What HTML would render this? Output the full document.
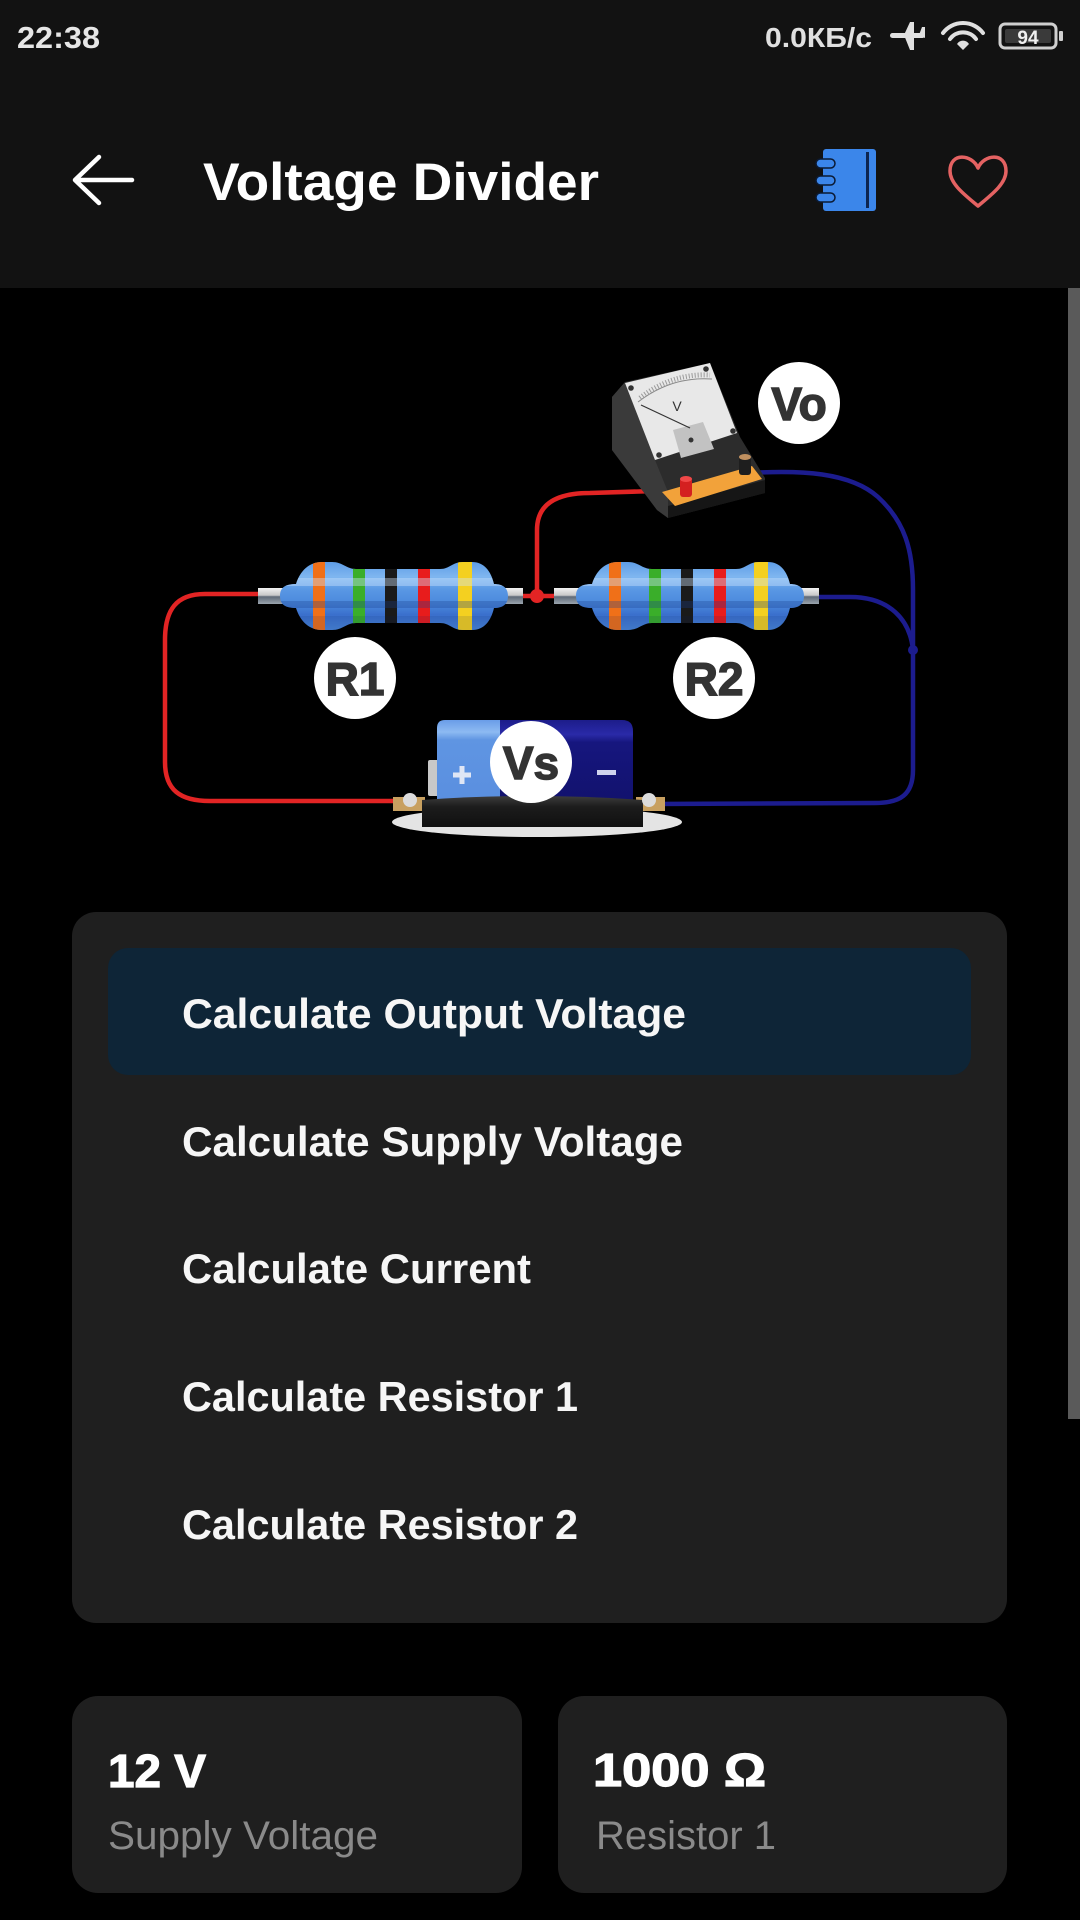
<!DOCTYPE html>
<html>
<head>
<meta charset="utf-8">
<style>
  html,body{margin:0;padding:0;background:#000;}
  body{width:1080px;height:1920px;position:relative;overflow:hidden;}
  svg{position:absolute;left:0;top:0;}
  text{font-family:"Liberation Sans", sans-serif;}
</style>
</head>
<body>
<svg width="1080" height="1920" viewBox="0 0 1080 1920" xmlns="http://www.w3.org/2000/svg">
  <defs>
    <linearGradient id="rg" x1="0" y1="0" x2="0" y2="1">
      <stop offset="0" stop-color="#5f9de6"/>
      <stop offset="0.22" stop-color="#7fb6f0"/>
      <stop offset="0.4" stop-color="#5a98e4"/>
      <stop offset="0.62" stop-color="#4a88dc"/>
      <stop offset="0.78" stop-color="#3a6fcc"/>
      <stop offset="1" stop-color="#4a86d8"/>
    </linearGradient>
    <linearGradient id="lead" x1="0" y1="0" x2="0" y2="1">
      <stop offset="0" stop-color="#f2f2f2"/>
      <stop offset="0.45" stop-color="#c9c9c9"/>
      <stop offset="0.55" stop-color="#5f6a78"/>
      <stop offset="1" stop-color="#9aa4ae"/>
    </linearGradient>
    <linearGradient id="batL" x1="0" y1="0" x2="0" y2="1">
      <stop offset="0" stop-color="#6a9de8"/>
      <stop offset="0.15" stop-color="#8dbaf2"/>
      <stop offset="0.25" stop-color="#5f95e2"/>
      <stop offset="1" stop-color="#5a8fe0"/>
    </linearGradient>
    <linearGradient id="batR" x1="0" y1="0" x2="0" y2="1">
      <stop offset="0" stop-color="#1c1c8a"/>
      <stop offset="0.18" stop-color="#2a2aa8"/>
      <stop offset="0.28" stop-color="#16167e"/>
      <stop offset="1" stop-color="#12126e"/>
    </linearGradient>
    <linearGradient id="hold" x1="0" y1="0" x2="0" y2="1">
      <stop offset="0" stop-color="#3c3c3c"/>
      <stop offset="0.35" stop-color="#1c1c1c"/>
      <stop offset="1" stop-color="#101010"/>
    </linearGradient>
    <clipPath id="rc">
      <path d="M 280 596 C 280 587 286 584 296 584 C 300 571 309 562 322 562 L 332 562 C 343 562 346 569 356 569 L 440 569 C 450 569 452 562 463 562 L 472 562 C 484 562 491 571 494 584 C 503 584 508 588 508 596 C 508 604 503 608 494 608 C 491 621 484 630 472 630 L 463 630 C 452 630 450 623 440 623 L 356 623 C 346 623 343 630 332 630 L 322 630 C 309 630 300 621 296 608 C 286 608 280 605 280 596 Z"/>
    </clipPath>
    <g id="res">
      <rect x="258" y="588" width="265" height="16" fill="url(#lead)"/>
      <path d="M 280 596 C 280 587 286 584 296 584 C 300 571 309 562 322 562 L 332 562 C 343 562 346 569 356 569 L 440 569 C 450 569 452 562 463 562 L 472 562 C 484 562 491 571 494 584 C 503 584 508 588 508 596 C 508 604 503 608 494 608 C 491 621 484 630 472 630 L 463 630 C 452 630 450 623 440 623 L 356 623 C 346 623 343 630 332 630 L 322 630 C 309 630 300 621 296 608 C 286 608 280 605 280 596 Z" fill="url(#rg)"/>
      <g clip-path="url(#rc)">
        <rect x="313" y="555" width="12" height="80" fill="#f07018"/>
        <rect x="353" y="555" width="12" height="80" fill="#3aae2a"/>
        <rect x="385" y="555" width="12" height="80" fill="#1a1a1a"/>
        <rect x="418" y="555" width="12" height="80" fill="#e81c1c"/>
        <rect x="458" y="555" width="14" height="80" fill="#f4d020"/>
        <rect x="280" y="578" width="230" height="8" fill="#d0e6ff" opacity="0.4"/>
        <rect x="280" y="601" width="230" height="7" fill="#1a3f90" opacity="0.3"/>
        <rect x="280" y="616" width="230" height="14" fill="#0a2060" opacity="0.12"/>
      </g>
    </g>
  </defs>

  <!-- top bars -->
  <rect x="0" y="0" width="1080" height="288" fill="#121212"/>
  <text x="17" y="48" font-size="31" font-weight="bold" fill="#e6e6e6" textLength="83" lengthAdjust="spacingAndGlyphs">22:38</text>
  <text x="765" y="47" font-size="28" font-weight="bold" fill="#e0e0e0" textLength="107" lengthAdjust="spacingAndGlyphs">0.0КБ/с</text>
  <!-- plane -->
  <g fill="#e0e0e0">
    <rect x="890" y="33" width="35" height="5" rx="2.5"/>
    <polygon points="904,35 910,22 914,22 914,35 914,50 910,50"/>
    <polygon points="919,35 922,27 925,27 925,38"/>
  </g>
  <!-- wifi -->
  <g fill="none" stroke="#e0e0e0" stroke-width="4" stroke-linecap="round">
    <path d="M 943 33 A 25 25 0 0 1 983 33"/>
    <path d="M 950 39 A 16 16 0 0 1 976 39"/>
  </g>
  <path d="M 957 44 A 7 7 0 0 1 969 44 L 963 50 Z" fill="#e0e0e0"/>
  <!-- battery -->
  <rect x="1000" y="24" width="56" height="24" rx="5" fill="none" stroke="#cfcfcf" stroke-width="3"/>
  <rect x="1005" y="29" width="46" height="14" rx="2" fill="#3a3a3a"/>
  <rect x="1059" y="31" width="4" height="10" rx="1" fill="#cfcfcf"/>
  <text x="1028" y="44" font-size="19" font-weight="bold" fill="#f0f0f0" text-anchor="middle">94</text>

  <!-- app bar -->
  <path d="M 132 180 H 76 M 99 157 L 75 180 L 99 203" fill="none" stroke="#ffffff" stroke-width="4.5" stroke-linecap="round" stroke-linejoin="round"/>
  <text x="203" y="200" font-size="53" font-weight="bold" fill="#ffffff" textLength="396" lengthAdjust="spacingAndGlyphs">Voltage Divider</text>
  <!-- notebook icon -->
  <rect x="823" y="149" width="53" height="62" rx="3" fill="#3b86ea"/>
  <rect x="866" y="152" width="3" height="56" fill="#0d2550"/>
  <g fill="#3b86ea" stroke="#0b1a33" stroke-width="1.5">
    <rect x="816" y="159" width="19" height="9" rx="4.5"/>
    <rect x="816" y="176" width="19" height="9" rx="4.5"/>
    <rect x="816" y="193" width="19" height="9" rx="4.5"/>
  </g>
  <!-- heart -->
  <path d="M 978 168 C 972 154 950 152 950 171 C 950 184 965 195 978 206 C 991 195 1006 184 1006 171 C 1006 152 984 154 978 168 Z" fill="none" stroke="#e46262" stroke-width="3.5" stroke-linejoin="round"/>

  <!-- scrollbar -->
  <rect x="1068" y="288" width="12" height="1131" fill="#5a5a5a"/>

  <!-- ========== circuit ========== -->
  <!-- wires -->
  <g fill="none" stroke="#e22424" stroke-width="4.5" stroke-linecap="round">
    <path d="M 262 594 L 205 594 C 176 594 165 610 165 640 L 165 762 C 165 790 180 801 210 801 L 410 801"/>
    <path d="M 520 596 L 556 596"/>
    <path d="M 537 596 L 537 530 C 537 505 555 493 590 493 L 686 490"/>
  </g>
  <circle cx="537" cy="596" r="7" fill="#e22424"/>
  <g fill="none" stroke="#1c1c8e" stroke-width="4.5" stroke-linecap="round">
    <path d="M 815 597 L 850 597 C 890 597 910 620 913 650"/>
    <path d="M 750 473 C 800 470 850 472 878 497 C 905 522 913 550 913 590 L 913 770 C 913 795 900 803 875 803 L 650 804"/>
  </g>
  <circle cx="913" cy="650" r="5" fill="#1c1c8e"/>

  <!-- resistors -->
  <use href="#res"/>
  <use href="#res" x="296"/>

  <!-- meter -->
  <polygon points="625,382 710,363 740,437 765,478 765,493 668,518 657,510 612,450 612,397" fill="#2c2c2c"/>
  <polygon points="612,397 625,382 655,460 668,492 668,518 657,510 612,450" fill="#3a3a3a"/>
  <polygon points="668,506 765,480 765,493 668,518" fill="#161616"/>
  <polygon points="662,492 752,466 762,479 675,506" fill="#f2a23a"/>
  <polygon points="625,383 710,363 737,433 655,460" fill="#e8e8e8"/>
  <polygon points="673,430 703,422 714,449 681,458" fill="#c2c2c2"/>
  <path d="M 638 402 Q 672 376 712 379" fill="none" stroke="#888" stroke-width="1"/>
  <path d="M 640 398 Q 672 373 710 375" fill="none" stroke="#999" stroke-width="5" stroke-dasharray="1 2"/>
  <line x1="690" y1="428" x2="641" y2="405" stroke="#333" stroke-width="1.2"/>
  <text x="677" y="411" font-size="14" fill="#333" text-anchor="middle">V</text>
  <g fill="#333">
    <circle cx="631" cy="388" r="2.8"/>
    <circle cx="706" cy="369" r="2.8"/>
    <circle cx="733" cy="431" r="2.8"/>
    <circle cx="659" cy="455" r="2.8"/>
    <circle cx="691" cy="440" r="2.5"/>
  </g>
  <rect x="680" y="478" width="12" height="19" rx="3" fill="#d42020"/>
  <ellipse cx="686" cy="479" rx="6" ry="3" fill="#f04848"/>
  <rect x="739" y="456" width="12" height="19" rx="3" fill="#1e1e1e"/>
  <ellipse cx="745" cy="457" rx="6" ry="3" fill="#c09060"/>

  <!-- battery -->
  <ellipse cx="537" cy="822" rx="145" ry="15" fill="#e4e4e4"/>
  <rect x="393" y="797" width="32" height="14" fill="#c8a060"/>
  <rect x="636" y="797" width="29" height="14" fill="#c8a060"/>
  <rect x="428" y="760" width="12" height="36" rx="2" fill="#c8c8c8"/>
  <path d="M 437 728 Q 437 720 445 720 L 502 720 L 502 800 L 437 800 Z" fill="url(#batL)"/>
  <path d="M 500 720 L 622 720 Q 633 720 633 731 L 633 800 L 500 800 Z" fill="url(#batR)"/>
  <path d="M 453 775 H 471 M 462 766 V 784" stroke="#dfe6f5" stroke-width="5"/>
  <rect x="597" y="770" width="19" height="5" fill="#d0d4ee"/>
  <path d="M 422 800 Q 532 792 643 800 L 643 827 L 422 827 Z" fill="url(#hold)"/>
  <circle cx="410" cy="800" r="7" fill="#dcdcdc"/>
  <circle cx="649" cy="800" r="7" fill="#dcdcdc"/>

  <!-- labels -->
  <g fill="#ffffff">
    <circle cx="355" cy="678" r="41"/>
    <circle cx="714" cy="678" r="41"/>
    <circle cx="799" cy="403" r="41"/>
    <circle cx="531" cy="762" r="41"/>
  </g>
  <g font-size="46" font-weight="bold" fill="#333" stroke="#333" stroke-width="1.5" text-anchor="middle">
    <text x="355" y="695">R1</text>
    <text x="714" y="695">R2</text>
    <text x="799" y="420">Vo</text>
    <text x="531" y="779">Vs</text>
  </g>

  <!-- ========== list card ========== -->
  <rect x="72" y="912" width="935" height="711" rx="24" fill="#1f1f1f"/>
  <rect x="108" y="948" width="863" height="127" rx="20" fill="#0e2537"/>
  <g font-size="42" font-weight="bold" fill="#f6f6f6">
    <text x="182" y="1028" textLength="504" lengthAdjust="spacingAndGlyphs">Calculate Output Voltage</text>
    <text x="182" y="1156" textLength="501" lengthAdjust="spacingAndGlyphs">Calculate Supply Voltage</text>
    <text x="182" y="1283" textLength="349" lengthAdjust="spacingAndGlyphs">Calculate Current</text>
    <text x="182" y="1411" textLength="396" lengthAdjust="spacingAndGlyphs">Calculate Resistor 1</text>
    <text x="182" y="1539" textLength="396" lengthAdjust="spacingAndGlyphs">Calculate Resistor 2</text>
  </g>

  <!-- ========== bottom cards ========== -->
  <rect x="72" y="1696" width="450" height="197" rx="26" fill="#1f1f1f"/>
  <rect x="558" y="1696" width="449" height="197" rx="26" fill="#1f1f1f"/>
  <g font-size="46" font-weight="bold" fill="#ffffff" stroke="#ffffff" stroke-width="1.2">
    <text x="108" y="1787" textLength="98" lengthAdjust="spacingAndGlyphs">12 V</text>
    <text x="593" y="1786" textLength="173" lengthAdjust="spacingAndGlyphs">1000 Ω</text>
  </g>
  <g font-size="40" fill="#8a8a8a">
    <text x="108" y="1849" textLength="270" lengthAdjust="spacingAndGlyphs">Supply Voltage</text>
    <text x="596" y="1849" textLength="180" lengthAdjust="spacingAndGlyphs">Resistor 1</text>
  </g>
</svg>
</body>
</html>
